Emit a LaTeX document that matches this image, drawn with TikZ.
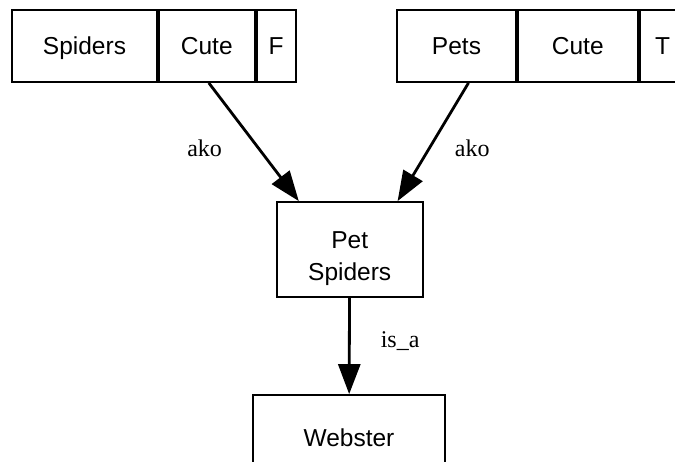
\documentclass[tikz,border=0pt]{standalone}
\usepackage{fontspec}
\setmainfont{Liberation Serif}
\setsansfont{Liberation Sans}
\usetikzlibrary{arrows.meta}
\usetikzlibrary{positioning}
\tikzstyle{cell} = [rectangle, minimum height=72pt, inner sep=0pt, text height=20pt, text depth=2.5pt, text centered, draw=black, line width=1.8pt, fill=white, font=\sffamily\fontsize{24.5}{29}\selectfont]
\tikzstyle{frame} = [rectangle, inner sep=0pt, align=center, draw=black, line width=1.8pt, fill=white, font=\sffamily\fontsize{24.5}{32}\selectfont]
\tikzstyle{arrow} = [-{Triangle[length=30pt,width=22pt]}, line width=2.8pt]
\tikzstyle{lbl} = [inner sep=0pt, font=\rmfamily\fontsize{24}{29}\selectfont]

\begin{document}
\begin{tikzpicture}[x=1pt, y=-1pt]

  \useasboundingbox (0,0) rectangle (675,462);
  \clip (0,0) rectangle (675,462);

  % the two frames at the top
  \node (spiders) [cell, minimum width=145pt] at (84.5,46) {Spiders};
  \node (lcute) [cell, minimum width=96pt, right=0pt of spiders] {Cute};
  \node (lval) [cell, minimum width=39pt, right=0pt of lcute] {F};

  \node (pets) [cell, minimum width=119pt] at (456.5,46) {Pets};
  \node (rcute) [cell, minimum width=120pt, right=0pt of pets] {Cute};
  \node (rval) [cell, minimum width=46pt, right=0pt of rcute] {T};

  % the lower nodes
  \node (petspiders) [frame, minimum width=146pt, minimum height=95pt, text height=64pt, text depth=1.5pt] at (349.7,249.5) {Pet\\Spiders};
  \node (webster) [frame, minimum width=192pt, minimum height=86pt] at (349,438) {Webster};

  % draw connections between nodes
  \draw [arrow] ([xshift=2pt]lcute.south) -- node[lbl, pos=0.55, left=35pt] {ako} ([xshift=23pt]petspiders.north west);
  \draw [arrow] ([xshift=12pt]pets.south) -- node[lbl, pos=0.55, right=24pt] {ako} ([xshift=-26pt]petspiders.north east);
  \draw [arrow] (petspiders) -- node[lbl, pos=0.45, right=30pt] {is\_a} (webster);

\end{tikzpicture}
\end{document}
